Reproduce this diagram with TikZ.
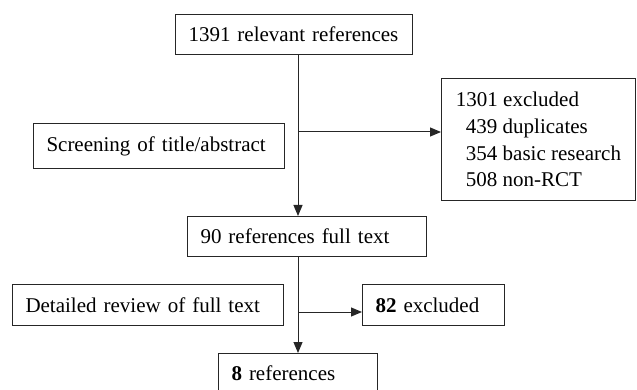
\documentclass[tikz,border=0pt]{standalone}
\usepackage{fontspec}
\setmainfont{Liberation Serif}
\usetikzlibrary{arrows.meta}

\begin{document}
\begin{tikzpicture}[x=1pt,y=-1pt,
  box/.style={draw=black!85,line width=1pt,anchor=north west,inner xsep=13pt,inner ysep=0pt,align=left,font=\fontsize{21}{26.7}\selectfont},
  arr/.style={draw=black!85,line width=1pt,-{Triangle[length=11pt,width=9pt]}}]
\useasboundingbox (0,0) rectangle (637,390);
% boxes
\node[box,text width=211,minimum height=40] (all) at (175,14) {1391 relevant references};
\node[box,text width=225,minimum height=45] (screen) at (33,123) {Screening of title/abstract};
\node[box,minimum width=194,minimum height=122] (excl) at (441,78) {1301 excluded\\
\hspace{10pt}439 duplicates\\
\hspace{10pt}354 basic research\\
\hspace{10pt}508 non-RCT};
\node[box,text width=213,minimum height=40] (full) at (187,216) {90 references full text};
\node[box,text width=245,minimum height=41] (review) at (12,284) {Detailed review of full text};
\node[box,text width=116,minimum height=41] (excltwo) at (362,284) {\textbf{82} excluded};
\node[box,text width=133,minimum height=40] (incl) at (218,353) {\textbf{8} references};
% connectors
\coordinate (j1) at (298,132);
\coordinate (j2) at (298,312);
\draw[arr] (all.south -| j1) -- (full.north -| j1);
\draw[arr] (j1) -- (j1 -| excl.west);
\draw[arr] (full.south -| j2) -- (incl.north -| j2);
\draw[arr] (j2) -- (j2 -| excltwo.west);
\end{tikzpicture}
\end{document}
